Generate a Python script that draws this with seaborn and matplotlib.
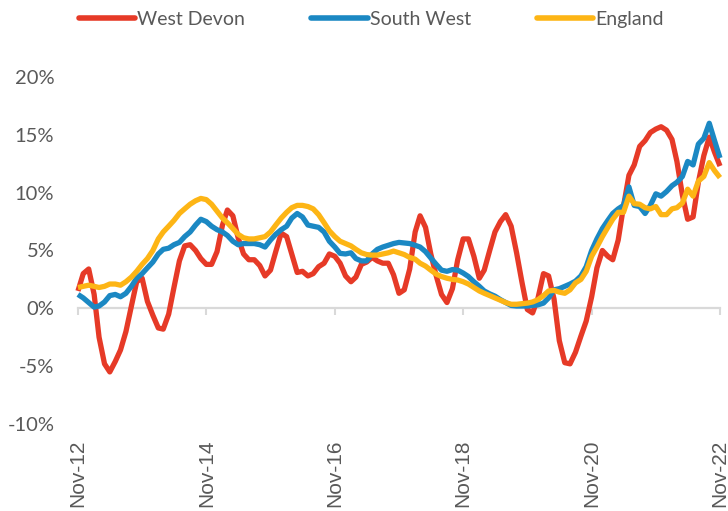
import numpy as np
import pandas as pd
import matplotlib.pyplot as plt
import matplotlib.dates as mdates
import seaborn as sns

# monthly % change, Nov-12 .. Nov-22
dates = pd.date_range('2012-11-01', periods=121, freq='MS')

west_devon = [1.5, 3.0, 3.4, 1.2, -2.5, -4.8, -5.5, -4.6, -3.6, -2.0,
              0.2, 2.3, 2.6, 0.6, -0.6, -1.7, -1.8, -0.5, 1.8, 4.1,
              5.4, 5.5, 5.0, 4.3, 3.8, 3.8, 4.9, 7.2, 8.5, 8.0,
              6.1, 4.7, 4.2, 4.2, 3.7, 2.8, 3.3, 4.9, 6.5, 6.2,
              4.7, 3.1, 3.2, 2.8, 3.0, 3.6, 3.9, 4.7, 4.5, 3.9,
              2.8, 2.3, 2.7, 3.8, 4.0, 4.4, 4.1, 3.9, 3.9, 2.9,
              1.3, 1.6, 3.4, 6.6, 8.0, 7.0, 4.7, 2.8, 1.2, 0.5,
              1.7, 4.2, 6.0, 6.0, 4.5, 2.6, 3.3, 5.0, 6.6, 7.5,
              8.1, 7.1, 4.8, 2.3, -0.1, -0.4, 0.9, 3.0, 2.8, 0.8,
              -2.8, -4.7, -4.8, -3.8, -2.4, -1.1, 1.0, 3.5, 5.0, 4.5,
              4.2, 5.9, 8.8, 11.5, 12.4, 14.0, 14.5, 15.2, 15.5, 15.7,
              15.4, 14.6, 12.7, 9.8, 7.7, 7.9, 10.9, 13.2, 14.8, 13.5,
              12.3]

south_west = [1.2, 0.9, 0.5, 0.1, 0.2, 0.55, 1.1, 1.2, 1.0, 1.3,
              1.9, 2.6, 3.0, 3.5, 4.0, 4.7, 5.1, 5.2, 5.5, 5.7,
              6.2, 6.6, 7.2, 7.7, 7.5, 7.1, 6.8, 6.6, 6.3, 5.8,
              5.5, 5.6, 5.6, 5.6, 5.5, 5.3, 5.9, 6.4, 6.8, 7.1,
              7.8, 8.2, 7.9, 7.2, 7.1, 7.0, 6.6, 5.8, 5.3, 4.75,
              4.7, 4.8, 4.3, 4.1, 4.1, 4.7, 5.1, 5.3, 5.45, 5.6,
              5.7, 5.65, 5.6, 5.45, 5.3, 4.9, 4.35, 3.8, 3.3, 3.2,
              3.35, 3.3, 3.05, 2.75, 2.3, 1.9, 1.5, 1.25, 1.05, 0.75,
              0.5, 0.25, 0.2, 0.2, 0.2, 0.25, 0.3, 0.45, 0.9, 1.6,
              1.7, 1.9, 2.1, 2.35, 2.8, 3.6, 5.0, 6.0, 6.9, 7.6,
              8.2, 8.6, 8.9, 10.5, 8.9, 8.8, 8.2, 8.9, 9.9, 9.7,
              10.1, 10.6, 10.9, 11.4, 12.7, 12.4, 14.2, 14.7, 16.0, 14.5,
              13.0]

england = [1.8, 1.9, 2.0, 1.9, 1.8, 1.9, 2.1, 2.1, 2.0, 2.3,
           2.7, 3.2, 3.8, 4.3, 5.0, 6.0, 6.6, 7.1, 7.6, 8.2,
           8.6, 9.0, 9.3, 9.5, 9.4, 9.0, 8.4, 7.8, 7.4, 6.9,
           6.4, 6.1, 6.0, 6.0, 6.1, 6.2, 6.6, 7.2, 7.8, 8.3,
           8.7, 8.9, 8.9, 8.8, 8.6, 8.1, 7.4, 6.7, 6.2, 5.8,
           5.6, 5.4, 5.1, 4.8, 4.65, 4.6, 4.6, 4.7, 4.8, 4.95,
           4.8, 4.65, 4.4, 4.25, 3.9, 3.65, 3.3, 2.95, 2.75, 2.6,
           2.5, 2.45, 2.3, 2.1, 1.8, 1.5, 1.3, 1.1, 0.9, 0.7,
           0.5, 0.35, 0.35, 0.4, 0.45, 0.55, 0.75, 1.1, 1.5, 1.55,
           1.4, 1.3, 1.6, 2.2, 2.5, 3.2, 4.5, 5.3, 6.2, 7.0,
           7.7, 8.3, 8.3, 9.7, 9.05, 9.0, 8.7, 8.6, 8.8, 8.1,
           8.1, 8.6, 8.7, 9.1, 10.3, 9.7, 11.0, 11.4, 12.6, 11.9,
           11.3]

series = ['West Devon', 'South West', 'England']
colors = ['#E63A27', '#1B88C3', '#FDB515']

df = pd.DataFrame({'date': dates, 'West Devon': west_devon,
                   'South West': south_west, 'England': england})
long = df.melt(id_vars='date', var_name='area', value_name='change')

sns.set_theme(style='white')
plt.rcParams['font.family'] = ['Lato', 'DejaVu Sans']
grey = '#595959'

fig = plt.figure(figsize=(7.28, 5.11), dpi=100)
ax = fig.add_axes([0.1071, 0.1703, 0.8819, 0.679])

sns.lineplot(data=long, x='date', y='change', hue='area', hue_order=series,
             palette=colors, linewidth=3.8, ax=ax, legend=False)
for l in ax.lines:
    l.set_clip_on(False)
    l.set_solid_joinstyle('round')
    l.set_solid_capstyle('butt')

ax.set_xlim(dates[0], dates[-1])
ax.set_ylim(-10, 20)
ax.set_yticks([-10, -5, 0, 5, 10, 15, 20])
ax.set_yticklabels([f'{v}%' for v in [-10, -5, 0, 5, 10, 15, 20]])
ax.set_xlabel('')
ax.set_ylabel('')
for s in ax.spines.values():
    s.set_visible(False)

ax.xaxis.set_major_locator(mdates.YearLocator(base=2, month=11))
ax.xaxis.set_major_formatter(mdates.DateFormatter('%b-%y'))
ax.tick_params(axis='x', length=0, pad=11, labelsize=15, labelcolor=grey,
               labelrotation=90)
for t in ax.get_xticklabels():
    t.set_family('Liberation Sans')
ax.tick_params(axis='y', length=0, pad=17, labelsize=14.5, labelcolor=grey)

# zero line with tick marks
zero = ax.secondary_xaxis(1 / 3)
zero.xaxis.set_major_locator(mdates.YearLocator(base=2, month=11))
zero.tick_params(axis='x', direction='out', length=5, width=1.5,
                 color='#D9D9D9', labelbottom=False)
zero.spines['bottom'].set_color('#D9D9D9')
zero.spines['bottom'].set_linewidth(1.6)
zero.set_zorder(0)

handles = [plt.Line2D([], [], color=c, linewidth=4, solid_capstyle='round')
           for c in colors]
leg = fig.legend(handles, series, loc='center', bbox_to_anchor=(0.51, 0.962),
                 ncol=3, frameon=False, fontsize=14, handlelength=2.9,
                 handletextpad=0.1, columnspacing=3.4)
for t in leg.get_texts():
    t.set_color(grey)

fig.savefig('out.png', dpi=100)
